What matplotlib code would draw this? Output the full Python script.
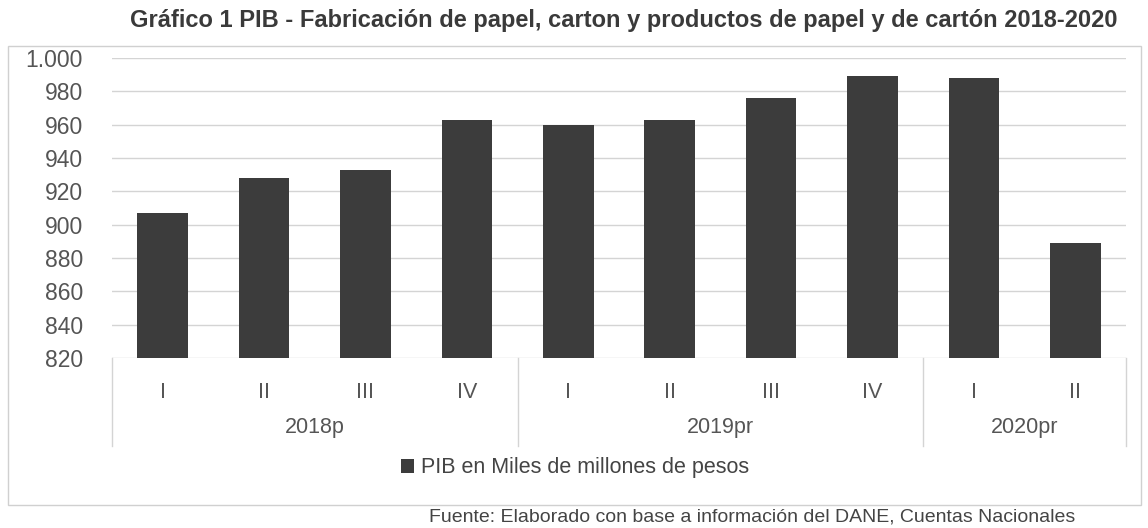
import matplotlib
matplotlib.use("Agg")
import matplotlib.pyplot as plt
import matplotlib.transforms as mtransforms
from matplotlib.patches import Rectangle

# ---- data ----
quarters = ["I", "II", "III", "IV", "I", "II", "III", "IV", "I", "II"]
years = ["2018p", "2019pr", "2020pr"]
year_counts = [4, 4, 2]
pib = [907, 928, 933, 963, 960, 963, 976, 989, 988, 889]
y_ticks = [820, 840, 860, 880, 900, 920, 940, 960, 980, 1000]
y_tick_labels = ["820", "840", "860", "880", "900", "920", "940", "960", "980", "1.000"]
title = "Gráfico 1 PIB - Fabricación de papel, carton y productos de papel y de cartón 2018-2020"
legend_label = "PIB en Miles de millones de pesos"
source = "Fuente: Elaborado con base a información del DANE, Cuentas Nacionales"

plt.rcParams["font.family"] = ["Liberation Sans", "DejaVu Sans"]

W, H = 1148, 528
fig = plt.figure(figsize=(W / 100, H / 100), dpi=100)
fig.patch.set_facecolor("white")

# chart border
fig.patches.append(Rectangle((8 / W, 1 - 505 / H), (1141 - 8) / W, (505 - 46) / H,
                             transform=fig.transFigure, fill=False,
                             edgecolor="#d0d0d0", lw=1.0))

left, right, top, bottom = 112, 1126, 58, 358
ax = fig.add_axes([left / W, 1 - bottom / H, (right - left) / W, (bottom - top) / H])

x = list(range(len(pib)))
ax.bar(x, pib, width=0.5, color="#3c3c3c", zorder=3)
ax.set_ylim(820, 1000)
ax.set_xlim(-0.5, len(pib) - 0.5)
ax.set_yticks(y_ticks)
ax.set_yticklabels(y_tick_labels)
ax.yaxis.grid(True, color="#d4d4d4", lw=1.0, zorder=0)
ax.set_axisbelow(True)
for s in ax.spines.values():
    s.set_visible(False)
ax.tick_params(axis="y", length=0, pad=21, labelsize=16.5, labelcolor="#555555")
ax.set_xticks(x)
ax.set_xticklabels(quarters)
ax.tick_params(axis="x", length=0, pad=17, labelsize=15.5, labelcolor="#555555")

# multi-level category axis
trans = mtransforms.blended_transform_factory(ax.transData, ax.transAxes)
ax_h = bottom - top
sep_depth = 88 / ax_h
start = 0
bounds = [-0.5]
for name, n in zip(years, year_counts):
    center = start + (n - 1) / 2
    ax.text(center, -70 / ax_h, name, transform=trans, ha="center", va="center",
            fontsize=15.5, color="#555555")
    start += n
    bounds.append(start - 0.5)
for b in bounds:
    ax.plot([b, b], [0, -sep_depth], transform=trans, color="#d4d4d4", lw=1.0,
            clip_on=False)

# legend
ax.bar([0], [0], width=0.5, color="#3c3c3c", label=legend_label)
leg = fig.legend(loc="center", bbox_to_anchor=(575 / W, 1 - 468 / H), frameon=False,
                 fontsize=15.5, handlelength=0.6, handleheight=0.6, handletextpad=0.3)
for t in leg.get_texts():
    t.set_color("#444444")

# title
fig.text(130 / W, 1 - 20 / H, title, ha="left", va="center", fontsize=17,
         fontweight="bold", color="#3a3a3a")

# source
fig.text(1075 / W, 1 - 517 / H, source, ha="right", va="center", fontsize=14,
         color="#444444")

fig.savefig("out.png", dpi=100, facecolor="white")
